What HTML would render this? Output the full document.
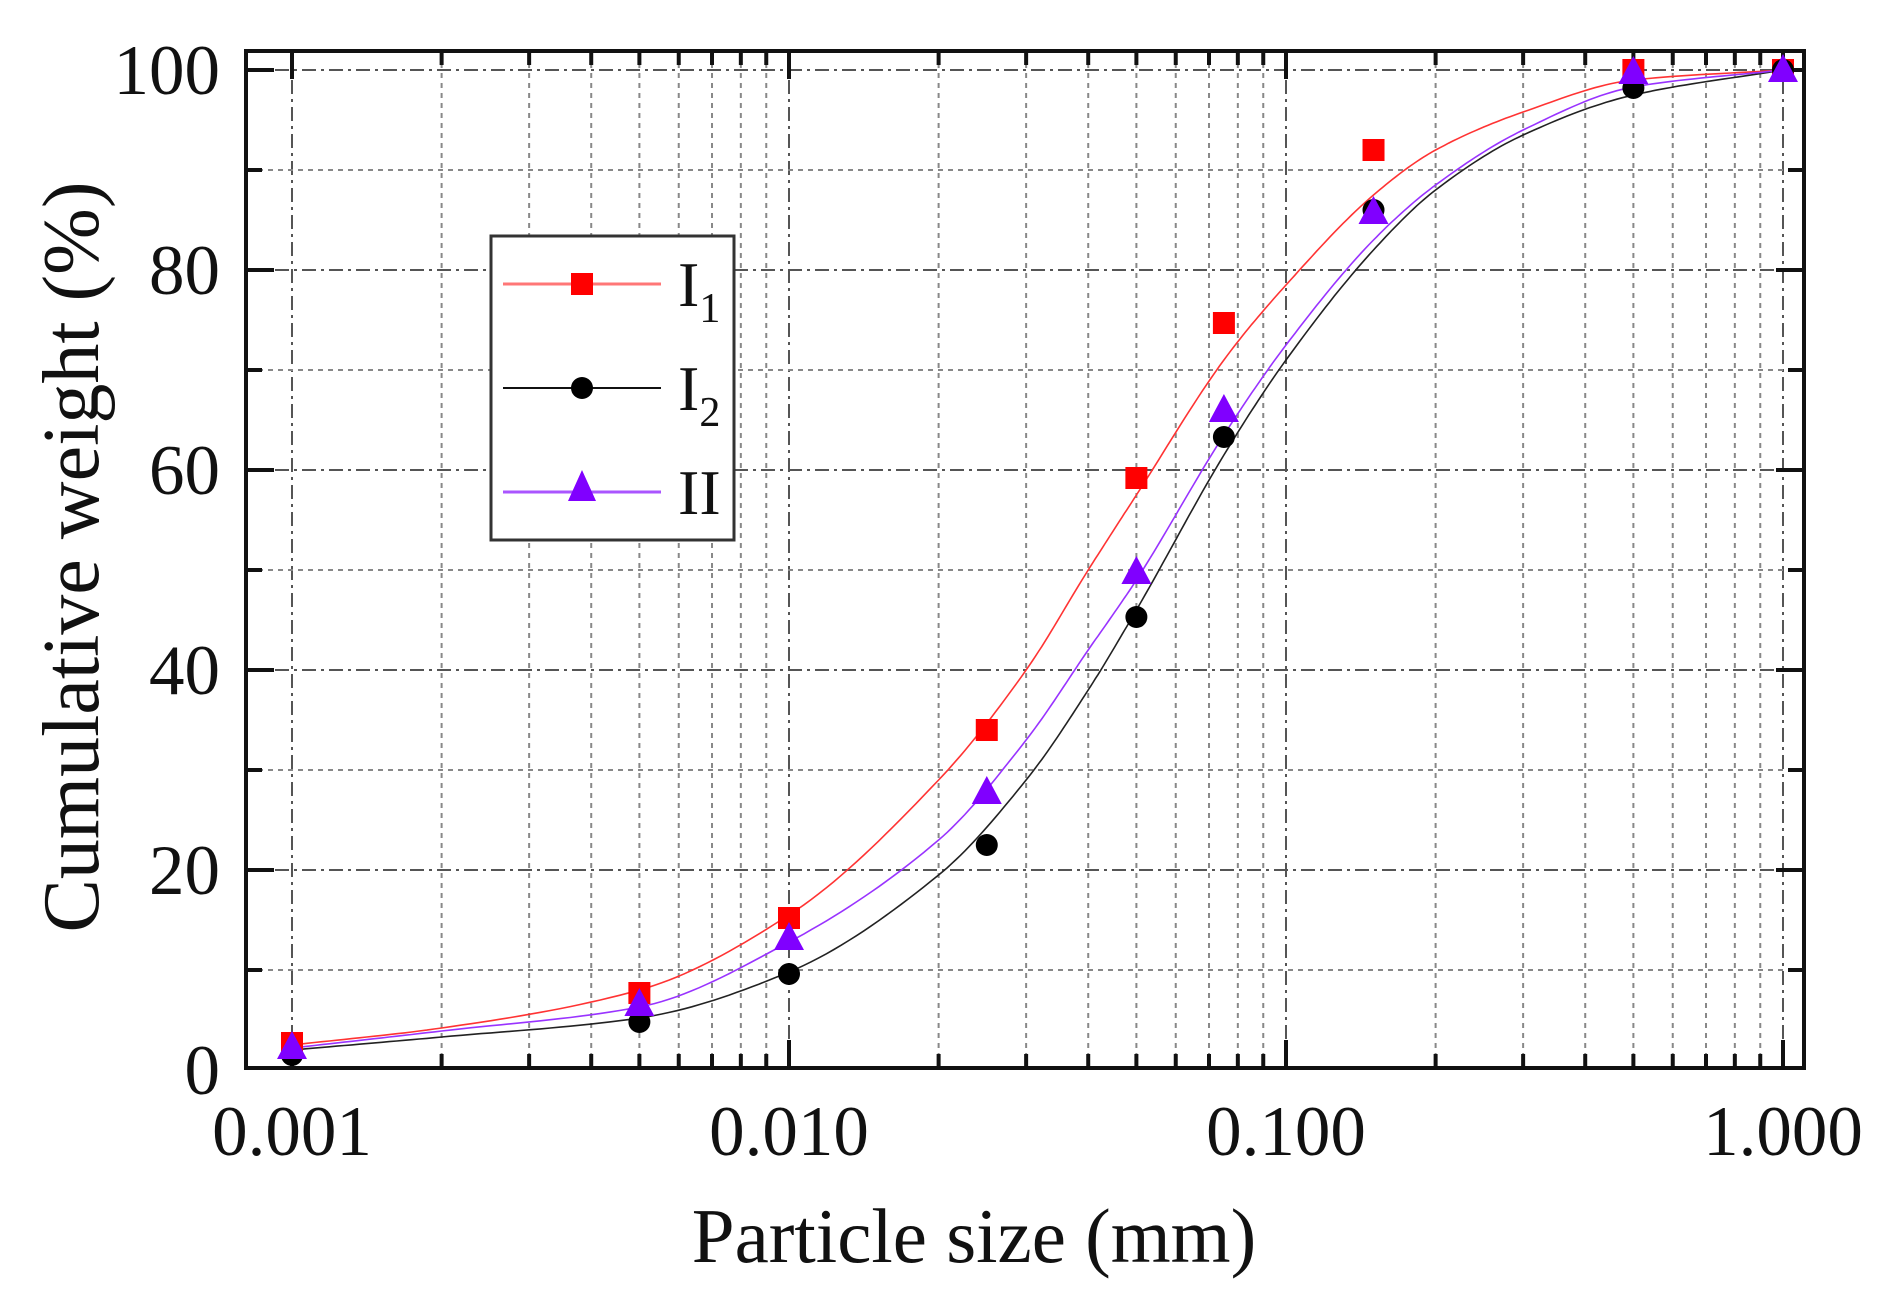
<!DOCTYPE html>
<html><head><meta charset="utf-8"><style>body{margin:0;background:#fff}svg{display:block}text{font-family:"Liberation Serif",serif;fill:#111}</style></head>
<body>
<svg id="s" width="1899" height="1297" xmlns="http://www.w3.org/2000/svg">
<g id="grid"></g>
<rect x="246" y="51" width="1558" height="1017" fill="none" stroke="#111" stroke-width="4"/>
<g id="ticks"></g>
<g id="curves" fill="none" stroke-width="1.6"></g>
<g id="marks"></g>
<g font-size="71" text-anchor="end">
<text x="220" y="94">100</text><text x="220" y="294">80</text><text x="220" y="494">60</text><text x="220" y="694">40</text><text x="220" y="894">20</text><text x="220" y="1094">0</text>
</g>
<g font-size="71" text-anchor="middle">
<text x="292" y="1155">0.001</text><text x="789" y="1155">0.010</text><text x="1286" y="1155">0.100</text><text x="1783" y="1155">1.000</text>
</g>
<text x="974" y="1262" font-size="77" text-anchor="middle">Particle size (mm)</text>
<text transform="translate(98,557) rotate(-90)" font-size="80" text-anchor="middle">Cumulative weight (%)</text>
<rect x="491" y="236" width="243" height="304" fill="#fff" stroke="#333" stroke-width="3"/>
<line x1="503" y1="284" x2="661" y2="284" stroke="#f77" stroke-width="3"/>
<rect x="571" y="273" width="22" height="22" fill="#f00"/>
<line x1="503" y1="388" x2="661" y2="388" stroke="#111" stroke-width="2"/>
<circle cx="582" cy="388" r="11" fill="#000"/>
<line x1="503" y1="492" x2="661" y2="492" stroke="#a5f" stroke-width="3"/>
<polygon points="582,470 596,501 568,501" fill="#8000ff"/>
<text x="678" y="306" font-size="64">I<tspan font-size="42" dy="16">1</tspan></text>
<text x="678" y="410" font-size="64">I<tspan font-size="42" dy="16">2</tspan></text>
<text x="678" y="514" font-size="64">II</text>
</svg>
<script>
const X=v=>292+497*(Math.log10(v)+3), Y=v=>1070-10*v, NS="http://www.w3.org/2000/svg";
function el(p,t,a){const e=document.createElementNS(NS,t);for(const k in a)e.setAttribute(k,a[k]);document.getElementById(p).appendChild(e);return e;}
for(let d=-3;d<=0;d++)for(let m=1;m<=9;m++){const v=m*Math.pow(10,d);if(v>1.05)break;const x=X(v);if(x>1802)break;
 const maj=m==1;el('grid','line',{x1:x,y1:53,x2:x,y2:1066,stroke:maj?'#555':'#888','stroke-width':2,'stroke-dasharray':maj?'14,5,3,5':'5,5'});
 el('ticks','line',{x1:x,y1:1066,x2:x,y2:maj?1040:1054,stroke:'#111','stroke-width':4});
 el('ticks','line',{x1:x,y1:53,x2:x,y2:maj?79:65,stroke:'#111','stroke-width':4});}
for(let v=10;v<=100;v+=10){const y=Y(v),maj=v%20==0;
 el('grid','line',{x1:248,y1:y,x2:1802,y2:y,stroke:maj?'#555':'#888','stroke-width':2,'stroke-dasharray':maj?'14,5,3,5':'5,5'});
 el('ticks','line',{x1:248,y1:y,x2:maj?274:262,y2:y,stroke:'#111','stroke-width':4});
 el('ticks','line',{x1:1802,y1:y,x2:maj?1776:1788,y2:y,stroke:'#111','stroke-width':4});}
const C={I1:[[.001,2.5],[.002,4.2],[.005,8],[.01,15.5],[.02,29],[.03,40],[.04,50],[.05,57.5],[.075,71],[.1,78.5],[.15,87.5],[.2,92],[.3,95.8],[.5,99],[1,100]],
I2:[[.001,2],[.002,3.3],[.005,5.2],[.01,9.8],[.02,19.5],[.03,29],[.04,38],[.05,46],[.075,61.5],[.1,71],[.15,82],[.2,88],[.3,93.5],[.5,97.5],[1,100]],
II:[[.001,2.2],[.002,3.9],[.005,6.3],[.01,12.8],[.02,23],[.03,33],[.04,42],[.05,49],[.075,63.5],[.1,72.5],[.15,83],[.2,88.5],[.3,94],[.5,98.3],[1,100]]};
const col={I1:'#f33',I2:'#222',II:'#93f'};
function mono(pts){const n=pts.length,x=pts.map(p=>Math.log10(p[0])),y=pts.map(p=>p[1]);const d=[],m=[];
 for(let i=0;i<n-1;i++)d.push((y[i+1]-y[i])/(x[i+1]-x[i]));
 m[0]=d[0];m[n-1]=d[n-2];for(let i=1;i<n-1;i++){m[i]=d[i-1]*d[i]<=0?0:2/(1/d[i-1]+1/d[i]);}
 const out=[];for(let i=0;i<n-1;i++){const h=x[i+1]-x[i];for(let s=0;s<20;s++){const t=s/20,t2=t*t,t3=t2*t;
 const v=(2*t3-3*t2+1)*y[i]+(t3-2*t2+t)*h*m[i]+(-2*t3+3*t2)*y[i+1]+(t3-t2)*h*m[i+1];
 out.push([292+497*(x[i]+t*h+3),Y(v)]);}}out.push([X(1),Y(y[n-1])]);return out;}
for(const k in C){const p=mono(C[k]);el('curves','path',{d:'M'+p.map(a=>a[0].toFixed(1)+','+a[1].toFixed(1)).join(' L'),stroke:col[k]});}
const xs=[.001,.005,.01,.025,.05,.075,.15,.5,1];
const D={I1:[2.7,7.7,15.2,34,59.2,74.7,92,100,100],I2:[1.5,4.8,9.6,22.5,45.3,63.3,86,98.2,100],II:[2.3,6.6,13.2,27.8,49.8,66,85.8,99.8,100]};
xs.forEach((x,i)=>{const cx=X(x);
 el('marks','rect',{x:cx-11,y:Y(D.I1[i])-11,width:22,height:22,fill:'#f00'});
 el('marks','circle',{cx:cx,cy:Y(D.I2[i]),r:11,fill:'#000'});
 const y=Y(D.II[i]);el('marks','polygon',{points:`${cx},${y-16} ${cx+15},${y+12} ${cx-15},${y+12}`,fill:'#8000ff'});});
</script>
</body></html>
